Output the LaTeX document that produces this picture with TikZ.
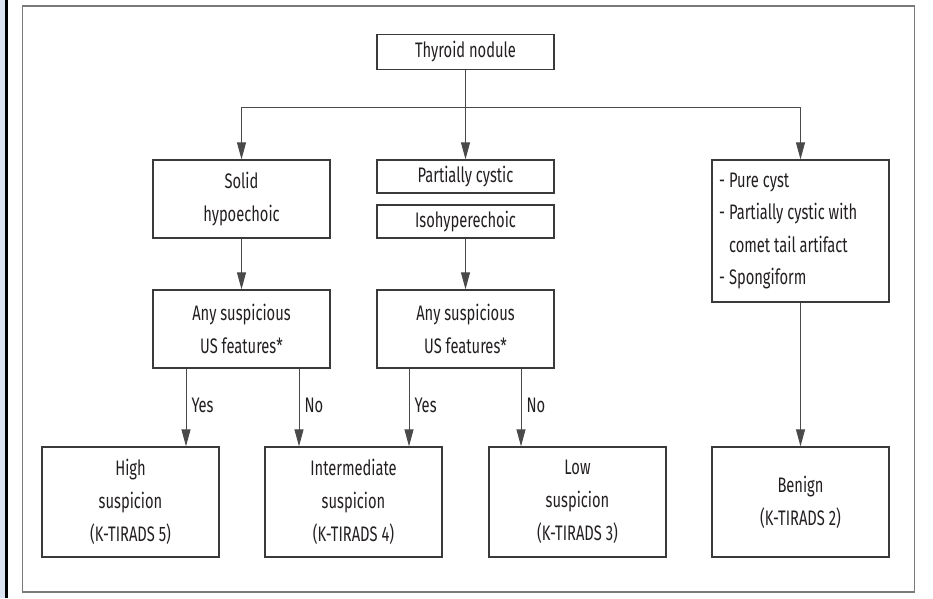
\documentclass[tikz,border=0pt]{standalone}
\usepackage{fontspec}
\setmainfont{Fira Sans}[FakeStretch=0.7]
\usetikzlibrary{arrows.meta}
\definecolor{boxline}{HTML}{3A3A3A}
\definecolor{conline}{HTML}{4A4A4A}
\definecolor{frameline}{HTML}{7A7A7A}
\definecolor{txt}{HTML}{231F20}
\definecolor{strip}{HTML}{DCE3F3}
\tikzset{
  box/.style={draw=boxline, line width=1.3pt, minimum width=177pt, inner sep=0pt,
    align=center, text=txt, font=\fontsize{21}{33}\selectfont},
  conn/.style={draw=conline, line width=1pt},
  arr/.style={conn, -{Triangle[length=17pt,width=9pt]}},
  lbl/.style={anchor=west, text=txt, inner sep=0pt, font=\fontsize{21}{24}\selectfont},
}
\begin{document}
\begin{tikzpicture}[x=1pt,y=-1pt]
\useasboundingbox (0,0) rectangle (933,598);
% page decorations
\fill[strip] (0,0) rectangle (5,598);
\fill[black] (5,0) rectangle (7.5,598);
\draw[frameline, line width=1.3pt] (22.5,6) rectangle (914.5,592);
% nodes
\node[box, minimum height=35pt] (thy) at (465.5,52) {Thyroid nodule};
\node[box, minimum height=78pt] (solid) at (241.5,199) {Solid\\hypoechoic};
\node[box, minimum height=33pt] (pc) at (465.5,176.5) {Partially cystic};
\node[box, minimum height=33pt] (iso) at (465.5,221.5) {Isohyperechoic};
\node[box, minimum height=142pt] (cyst) at (800.5,231) {};
\node[anchor=west, align=left, inner sep=0pt, text=txt, font=\fontsize{21}{32.5}\selectfont] (cysttxt) at (719,231)
  {- Pure cyst\\- Partially cystic with\\\hphantom{- }comet tail artifact\\- Spongiform};
\node[box, minimum height=78pt] (as1) at (241.5,329) {Any suspicious\\US features*};
\node[box, minimum height=78pt] (as2) at (465.5,329) {Any suspicious\\US features*};
\node[box, minimum height=110pt] (high) at (130.5,502) {High\\suspicion\\(K-TIRADS 5)};
\node[box, minimum height=110pt] (inter) at (353.5,502) {Intermediate\\suspicion\\(K-TIRADS 4)};
\node[box, minimum height=110pt] (low) at (577.5,502) {Low\\suspicion\\(K-TIRADS 3)};
\node[box, minimum height=110pt] (benign) at (800.5,502) {Benign\\(K-TIRADS 2)};
% connectors
\coordinate (hl) at (241.5,107);
\coordinate (hr) at (800.5,107);
\draw[conn] (hl) -- (hr);
\draw[arr] (thy.south) -- (pc.north);
\draw[arr] (hl) -- (solid.north);
\draw[arr] (hr) -- (cyst.north);
\draw[arr] (solid.south) -- (as1.north);
\draw[arr] (iso.south) -- (as2.north);
\draw[arr] (cyst.south) -- (benign.north);
\coordinate (y1) at (186,0);
\coordinate (n1) at (299,0);
\coordinate (y2) at (409,0);
\coordinate (n2) at (521,0);
\draw[arr] (as1.south -| y1) -- (high.north -| y1) node[lbl, pos=0.47, xshift=5pt] {Yes};
\draw[arr] (as1.south -| n1) -- (inter.north -| n1) node[lbl, pos=0.47, xshift=5pt] {No};
\draw[arr] (as2.south -| y2) -- (inter.north -| y2) node[lbl, pos=0.47, xshift=5pt] {Yes};
\draw[arr] (as2.south -| n2) -- (low.north -| n2) node[lbl, pos=0.47, xshift=5pt] {No};
\end{tikzpicture}
\end{document}
